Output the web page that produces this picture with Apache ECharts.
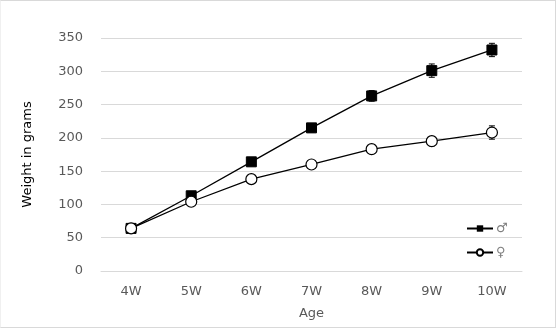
<!DOCTYPE html>
<html><head><meta charset="utf-8">
<script src="https://cdn.jsdelivr.net/npm/echarts@6/dist/echarts.min.js"></script>
<style>
html,body{margin:0;padding:0;background:#fff;}
#frame{position:absolute;left:0;top:0;width:554px;height:326px;border:1px solid #d9d9d9;border-left-color:#f0f0f0;}
#c{position:absolute;left:0;top:0;width:557px;height:329px;}
</style></head>
<body><div id="frame"></div><div id="c"></div>
<script>
const categories = ['4W','5W','6W','7W','8W','9W','10W'];
const maleMean = [64, 113, 164, 215, 263, 301, 332];
const maleErr = [3, 4, 5, 6, 8, 10, 10];
const femaleMean = [64, 104, 138, 160, 183, 195, 208];
const femaleErr = [3, 3, 4, 4, 5, 7, 10];
const yTicks = [0, 50, 100, 150, 200, 250, 300, 350];

const font = 'DejaVu Sans';
const chart = echarts.init(document.getElementById('c'));

function errSeries(mean, err, z) {
  return {
    type: 'custom',
    z: z,
    silent: true,
    data: mean.map((m, i) => [i, m - err[i], m + err[i]]),
    renderItem: function (params, api) {
      const x = api.coord([api.value(0), 0])[0];
      const lo = api.coord([api.value(0), api.value(1)])[1];
      const hi = api.coord([api.value(0), api.value(2)])[1];
      const w = 3;
      const st = {stroke: '#000', lineWidth: 1};
      return {type: 'group', children: [
        {type: 'line', shape: {x1: x, y1: lo, x2: x, y2: hi}, style: st},
        {type: 'line', shape: {x1: x - w, y1: lo, x2: x + w, y2: lo}, style: st},
        {type: 'line', shape: {x1: x - w, y1: hi, x2: x + w, y2: hi}, style: st}
      ]};
    }
  };
}

chart.setOption({
  animation: false,
  grid: {left: 101, right: 35, top: 38, bottom: 58},
  legend: {
    orient: 'vertical',
    left: 461, top: 217,
    itemWidth: 26, itemHeight: 8, itemGap: 11,
    textStyle: {fontFamily: font, fontSize: 13, color: '#7f7f7f', padding: [0, 0, 0, -2]},
    data: ['♂', '♀']
  },
  xAxis: {
    type: 'category',
    data: categories,
    name: 'Age',
    nameLocation: 'middle',
    nameGap: 36,
    nameTextStyle: {fontFamily: font, fontSize: 13, color: '#595959'},
    axisLine: {show: true, lineStyle: {color: '#d9d9d9'}},
    axisTick: {show: false},
    axisLabel: {fontFamily: font, fontSize: 13, color: '#595959', margin: 14}
  },
  yAxis: {
    type: 'value',
    min: yTicks[0], max: yTicks[yTicks.length - 1], interval: 50,
    name: 'Weight in grams',
    nameLocation: 'middle',
    nameGap: 67,
    nameRotate: 90,
    nameTextStyle: {fontFamily: font, fontSize: 13, color: '#000'},
    axisLine: {show: false},
    axisTick: {show: false},
    splitLine: {lineStyle: {color: '#d9d9d9'}},
    axisLabel: {fontFamily: font, fontSize: 13, color: '#595959', margin: 18}
  },
  series: [
    errSeries(maleMean, maleErr, 1),
    errSeries(femaleMean, femaleErr, 1),
    {
      name: '♂', type: 'line', data: maleMean, z: 3,
      symbol: 'rect', symbolSize: 10,
      lineStyle: {color: '#000', width: 1.3},
      itemStyle: {color: '#000', borderColor: '#000'}
    },
    {
      name: '♀', type: 'line', data: femaleMean, z: 4,
      symbol: 'circle', symbolSize: 11, showAllSymbol: true,
      lineStyle: {color: '#000', width: 1.3},
      itemStyle: {color: '#fff', borderColor: '#000', borderWidth: 1.2}
    }
  ]
});
</script>
</body></html>
